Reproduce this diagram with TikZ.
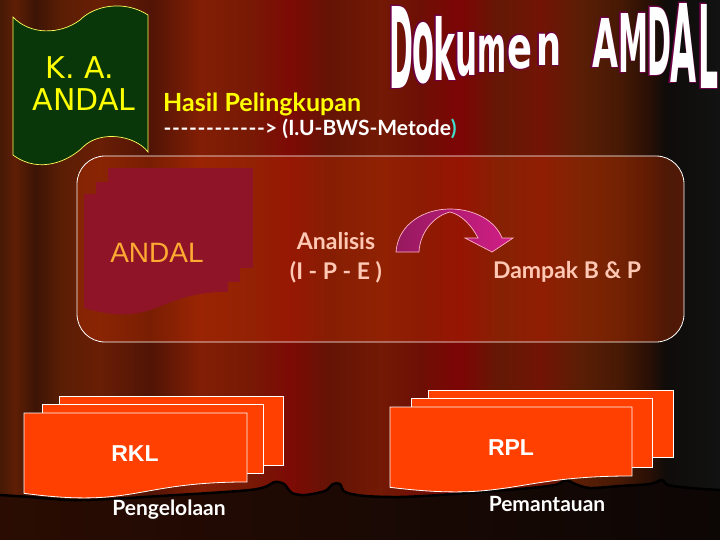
\documentclass[tikz,border=0pt]{standalone}
\usepackage{fontspec}
\usepackage{graphicx}
\setmainfont{Lato}
\newfontfamily\dejavu{DejaVu Sans}
\newfontfamily\arialf{Liberation Sans}
\definecolor{c0}{RGB}{70,25,5}
\definecolor{c1}{RGB}{95,30,5}
\definecolor{c2}{RGB}{60,20,5}
\definecolor{c3}{RGB}{90,30,5}
\definecolor{c4}{RGB}{105,30,5}
\definecolor{c5}{RGB}{80,20,5}
\definecolor{c6}{RGB}{130,30,5}
\definecolor{c7}{RGB}{120,25,5}
\definecolor{c8}{RGB}{125,10,5}
\definecolor{c9}{RGB}{100,20,5}
\definecolor{c10}{RGB}{115,25,5}
\definecolor{c11}{RGB}{110,15,5}
\definecolor{c12}{RGB}{125,5,5}
\definecolor{c13}{RGB}{100,25,5}
\definecolor{c14}{RGB}{115,20,5}
\definecolor{c15}{RGB}{90,30,5}
\definecolor{c16}{RGB}{70,25,5}
\definecolor{c17}{RGB}{40,15,5}
\definecolor{c18}{RGB}{15,12,10}
\definecolor{c19}{RGB}{18,18,18}
\definecolor{floorL}{RGB}{42,12,2}
\definecolor{floorR}{RGB}{12,6,5}
\definecolor{boxfill}{RGB}{200,50,0}
\definecolor{scrollgreen}{RGB}{10,55,10}
\definecolor{scrollline}{RGB}{255,255,90}
\definecolor{yel}{RGB}{255,255,0}
\definecolor{cyanp}{RGB}{64,224,208}
\definecolor{andalred}{RGB}{143,20,40}
\definecolor{andaltxt}{RGB}{255,170,50}
\definecolor{pinktxt}{RGB}{255,200,180}
\definecolor{pageor}{RGB}{255,64,0}
\definecolor{arrL}{RGB}{150,25,95}
\definecolor{arrR}{RGB}{210,30,135}
\definecolor{arrline}{RGB}{255,180,200}
\definecolor{wordedge}{RGB}{110,0,70}
\tikzset{
  docshape/.style n args={4}{insert path={(#1,#2) -- (#3,#2) -- (#3,{#2+0.802*#4}) .. controls ({(#1+#3)/2},{#2+0.802*#4}) and ({(#1+#3)/2},{#2+1.1075*#4}) .. (#1,{#2+0.934*#4}) -- cycle}},
  orangepage/.style={fill=pageor, draw=white, line width=0.8pt},
  crimsonpage/.style={fill=andalred},
  pinktext/.style={text=pinktxt, font=\bfseries\fontsize{23}{23}\selectfont, inner sep=0pt},
  pagelabel/.style={text=white, font=\arialf\bfseries\fontsize{23}{23}\selectfont, inner sep=0pt},
  floorlabel/.style={text=white, font=\bfseries\fontsize{21}{21}\selectfont, inner sep=0pt},
  scrolltext/.style={text=yel, font=\dejavu\fontsize{30}{30}\selectfont, inner sep=0pt},
  wlout/.style={inner sep=0pt, anchor=north west, text=wordedge},
  wlin/.style={inner sep=0pt, anchor=north west, text=white},
}
\newcommand{\dd}{\makebox[8.5pt]{-}}
\newcommand{\wl}[6]{%
  \node[wlout, name=#1o] at ({#2-1.3},{#3-1.2}) {\resizebox{\dimexpr#4pt+2.6pt\relax}{\dimexpr#5pt+2.4pt\relax}{\dejavu\bfseries #6}};
  \node[wlin, name=#1] at (#2,#3) {\resizebox{#4pt}{#5pt}{\dejavu\bfseries #6}};}
\begin{document}
\begin{tikzpicture}[x=1pt,y=-1pt]
\useasboundingbox (0,0) rectangle (720,540);
% curtain
\shade[left color=c0,right color=c1] (0,0) rectangle (15.5,540);
\shade[left color=c1,right color=c2] (15,0) rectangle (35.5,540);
\shade[left color=c2,right color=c3] (35,0) rectangle (60.5,540);
\shade[left color=c3,right color=c4] (60,0) rectangle (100.5,540);
\shade[left color=c4,right color=c5] (100,0) rectangle (150.5,540);
\shade[left color=c5,right color=c6] (150,0) rectangle (200.5,540);
\shade[left color=c6,right color=c7] (200,0) rectangle (250.5,540);
\shade[left color=c7,right color=c8] (250,0) rectangle (290.5,540);
\shade[left color=c8,right color=c9] (290,0) rectangle (330.5,540);
\shade[left color=c9,right color=c10] (330,0) rectangle (380.5,540);
\shade[left color=c10,right color=c11] (380,0) rectangle (420.5,540);
\shade[left color=c11,right color=c12] (420,0) rectangle (460.5,540);
\shade[left color=c12,right color=c13] (460,0) rectangle (500.5,540);
\shade[left color=c13,right color=c14] (500,0) rectangle (540.5,540);
\shade[left color=c14,right color=c15] (540,0) rectangle (580.5,540);
\shade[left color=c15,right color=c16] (580,0) rectangle (620.5,540);
\shade[left color=c16,right color=c17] (620,0) rectangle (650.5,540);
\shade[left color=c17,right color=c18] (650,0) rectangle (665.5,540);
\shade[left color=c18,right color=c19] (665,0) rectangle (720,540);
% floor
\fill[left color=floorL,right color=floorR] plot[smooth,tension=0.5] coordinates {(0,495) (30,497) (70,500) (110,499) (160,496) (210,493) (250,490) (265,487) (275,482) (284,484) (292,493) (305,495) (325,491) (333,484) (340,484) (345,492) (365,496) (400,497) (440,495) (480,492) (520,489) (555,485) (566,480) (575,484) (590,488) (620,486) (650,484) (662,480) (668,485) (690,488) (720,490)} -- (720,540) -- (0,540) -- cycle;
\draw[black,line width=2.5pt] plot[smooth,tension=0.5] coordinates {(0,495) (30,497) (70,500) (110,499) (160,496) (210,493) (250,490) (265,487) (275,482) (284,484) (292,493) (305,495) (325,491) (333,484) (340,484) (345,492) (365,496) (400,497) (440,495) (480,492) (520,489) (555,485) (566,480) (575,484) (590,488) (620,486) (650,484) (662,480) (668,485) (690,488) (720,490)};
% panel
\draw[white,line width=0.8pt,fill=boxfill,fill opacity=0.35,rounded corners=28pt] (77,156) rectangle (684,342);
% scroll
\draw[fill=scrollgreen,draw=scrollline,line width=0.7pt] (13,17) .. controls (30,35) and (60,35) .. (80,20) .. controls (95,5) and (125,0) .. (148,15) -- (148,152) .. controls (135,135) and (100,130) .. (83,147) .. controls (70,160) and (40,175) .. (13,155) -- cycle;
\node[scrolltext] (ka) at (80,68) {K. A.};
\node[scrolltext] (kaandal) at (84,100) {ANDAL};
% top texts
\node[text=yel,font=\bfseries\fontsize{25}{25}\selectfont,inner sep=0pt,anchor=base west] (hasil) at (163,112) {Hasil Pelingkupan};
\node[text=white,font=\bfseries\fontsize{21}{21}\selectfont,inner sep=0pt,anchor=base west] (iubws) at (163,136) {\dd\dd\dd\dd\dd\dd\dd\dd\dd\dd\dd\dd> (I.U-BWS-Metode\textcolor{cyanp}{)}};
% word art
\wl{w1}{389}{6}{24}{82}{D}
\wl{w2}{412}{22}{22}{60}{o}
\wl{w3}{433}{16}{22}{64}{k}
\wl{w4}{455}{32}{22}{43}{u}
\wl{w5}{477}{35}{29}{37}{m}
\wl{w6}{507}{35}{25}{33}{e}
\wl{w7}{536}{33}{25}{32}{n}
\wl{w8}{592}{18}{26}{49}{A}
\wl{w9}{618}{13}{30}{59}{M}
\wl{w10}{647}{7}{24}{68}{D}
\wl{w11}{670}{3}{26}{79}{A}
\wl{w12}{698}{4}{20}{84}{L}
% ANDAL documents
\fill[crimsonpage] (108,168) rectangle (253,268);
\fill[crimsonpage] (96,182) rectangle (240,282);
\fill[crimsonpage, docshape={84}{194}{228}{122}];
\node[text=andaltxt,font=\arialf\fontsize{28}{28}\selectfont,inner sep=0pt] (andal) at (157,253) {ANDAL};
% analisis
\node[pinktext] (analisis) at (336,241) {Analisis};
\node[pinktext] (ipe) at (336,272) {(I - P - E )};
\node[pinktext] (dampak) at (567,272) {Dampak B \& P};
% curved arrow
\draw[draw=arrline,line width=0.7pt,left color=arrL,right color=arrR] (396,252) .. controls (398,224) and (424,209) .. (450,209) .. controls (476,209) and (496,222) .. (502,238) -- (513,238) -- (492,252) -- (465,238) -- (478,238) .. controls (472,226) and (462,215) .. (450,212) .. controls (434,216) and (420,232) .. (419,252) -- cycle;
% RKL
\draw[orangepage] (59,396) rectangle (283,465);
\draw[orangepage] (42,404) rectangle (263,473);
\draw[orangepage, docshape={24}{413}{247}{86}];
\node[pagelabel] (rkl) at (135,454) {RKL};
\node[floorlabel] (pengelolaan) at (169,510) {Pengelolaan};
% RPL
\draw[orangepage] (428,390) rectangle (673,457);
\draw[orangepage] (411,398) rectangle (652,467);
\draw[orangepage, docshape={390}{407}{632}{86}];
\node[pagelabel] (rpl) at (511,448) {RPL};
\node[floorlabel] (pemantauan) at (547,504) {Pemantauan};
\end{tikzpicture}
\end{document}
